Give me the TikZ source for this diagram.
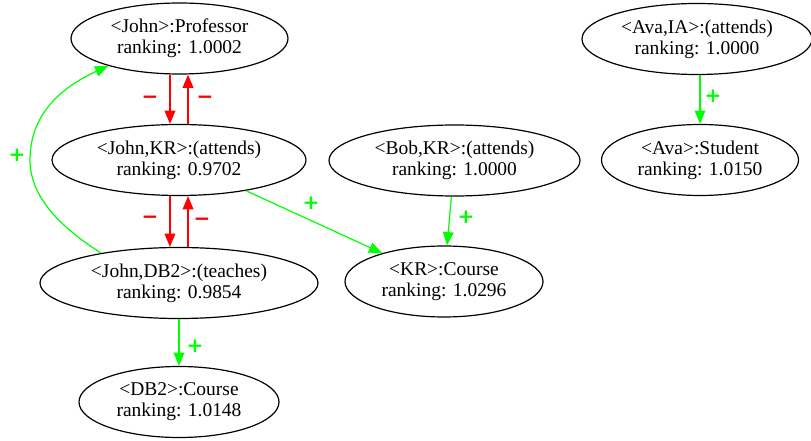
\documentclass[tikz,border=0pt]{standalone}
\usepackage{fontspec}
\setmainfont{Liberation Serif}
\newfontfamily\signfont{DejaVu Sans Bold}
\usetikzlibrary{shapes.geometric,arrows.meta}
\definecolor{posgreen}{RGB}{0,255,0}
\definecolor{negred}{RGB}{255,0,0}
\begin{document}
\begin{tikzpicture}[x=0.75pt,y=-0.75pt,
  entity/.style={ellipse,draw=black,line width=0.9pt,inner sep=0pt,
    minimum height=71*0.75pt,align=center,
    font=\fontsize{14.6pt}{15.8pt}\selectfont},
  ewidth/.style={minimum width=#1*0.75pt},
  headtip/.style={-{Triangle[length=10pt,width=8pt]}},
  negedge/.style={headtip,draw=negred,line width=1.4pt},
  posedge/.style={headtip,draw=posgreen,line width=0.9pt},
  neglbl/.style={text=negred,font=\signfont\fontsize{15pt}{15pt}\selectfont},
  poslbl/.style={text=posgreen,font=\signfont\fontsize{15pt}{15pt}\selectfont}]
\useasboundingbox (0,0) rectangle (811,441);

% entities and relationships
\node[entity,ewidth=217] (prof)  at (179.5,38.5) {<John>:Professor\\ranking: 1.0002};
\node[entity,ewidth=254] (jkr)   at (179,160)    {<John,KR>:(attends)\\ranking: 0.9702};
\node[entity,ewidth=278] (jdb)   at (179,283)    {<John,DB2>:(teaches)\\ranking: 0.9854};
\node[entity,ewidth=200] (db2)   at (179,402)    {<DB2>:Course\\ranking: 1.0148};
\node[entity,ewidth=251] (bob)   at (454.5,160.5){<Bob,KR>:(attends)\\ranking: 1.0000};
\node[entity,ewidth=198] (kr)    at (444,281.5)  {<KR>:Course\\ranking: 1.0296};
\node[entity,ewidth=230] (avaia) at (697,39)     {<Ava,IA>:(attends)\\ranking: 1.0000};
\node[entity,ewidth=197] (ava)   at (700,160)    {<Ava>:Student\\ranking: 1.0150};

% negative influences
\draw[negedge] ([xshift=-7.1pt]prof.south) -- ([xshift=-6.8pt]jkr.north);
\draw[negedge] ([xshift=6.8pt]jkr.north) -- ([xshift=6.4pt]prof.south);
\draw[negedge] ([xshift=-6.8pt]jkr.south) -- ([xshift=-6.8pt]jdb.north);
\draw[negedge] ([xshift=6.8pt]jdb.north) -- ([xshift=6.8pt]jkr.south);
\node[neglbl] (m1) at (150,100) {−};
\node[neglbl] (m2) at (205,100) {−};
\node[neglbl] (m3) at (150,220) {−};
\node[neglbl] (m4) at (202,222) {−};

% positive influences
\draw[posedge] (jdb.159) .. controls (62,228) and (30,198) .. (30,160)
  .. controls (30,115) and (60,88) .. (prof.201);
\draw[posedge] (jkr) -- (kr);
\draw[posedge] (bob) -- (kr);
\draw[posedge] (jdb.south) -- (db2.north);
\draw[posedge] ([xshift=2.25pt]avaia.south) -- (ava.north);
\node[poslbl] (p1) at (17,155)  {+};
\node[poslbl] (p2) at (311,203) {+};
\node[poslbl] (p3) at (466,217) {+};
\node[poslbl] (p4) at (195,346) {+};
\node[poslbl] (p5) at (713,96)  {+};
\end{tikzpicture}
\end{document}
